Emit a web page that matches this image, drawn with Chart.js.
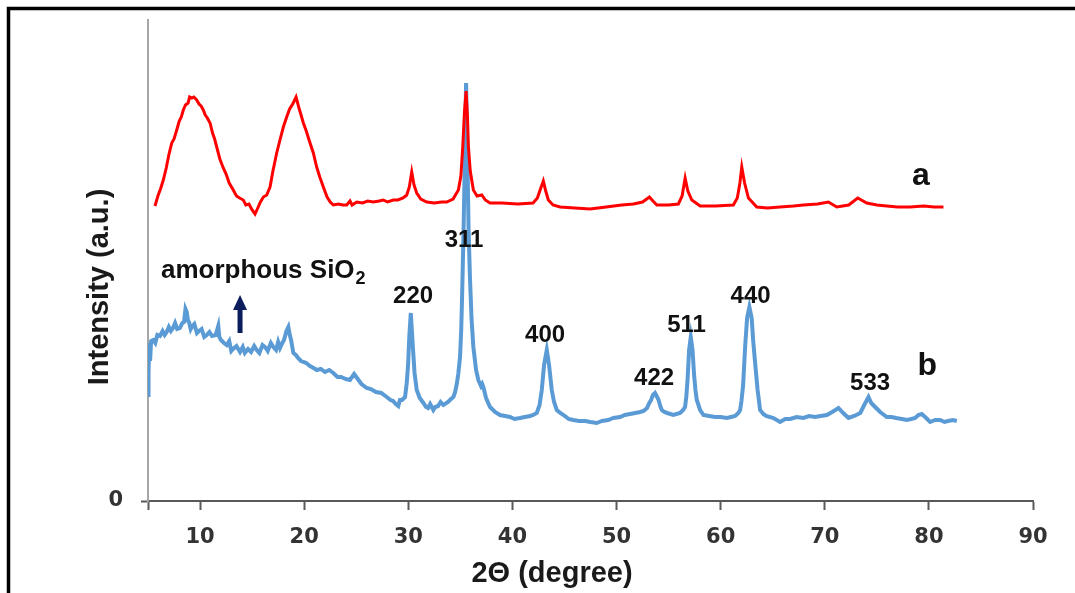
<!DOCTYPE html>
<html>
<head>
<meta charset="utf-8">
<script src="https://cdn.jsdelivr.net/npm/chart.js@4.4.1/dist/chart.umd.min.js"></script>
<style>
  html, body { margin: 0; padding: 0; background: #fff; }
  #wrap { width: 1075px; height: 593px; }
</style>
</head>
<body>
<div id="wrap"><canvas id="xrd" width="1075" height="593"></canvas></div>
<script>
// 2theta (degree) / intensity (a.u.)
const xTicks = [5, 10, 20, 30, 40, 50, 60, 70, 80, 90];
const yTicks = [0];

const curveA = [
  [5.67,295],[5.95,305],[6.2,312],[6.47,321],[6.75,333],[7.0,346],[7.28,358],[7.5,362],[7.76,371],[8.0,380],
  [8.2,384],[8.39,391],[8.6,396],[8.85,398],[9.0,404],[9.2,403],[9.4,404],[9.68,401],[9.9,397],[10.1,395],
  [10.31,391],[10.5,386],[10.7,383],[10.96,378],[11.2,368],[11.4,362],[11.6,354],[11.9,342],[12.23,333],[12.5,327],
  [12.8,318],[13.19,311],[13.5,305],[13.8,303],[14.15,301],[14.4,296],[14.7,297],[15.0,291],[15.28,287],[15.5,292],
  [15.8,299],[16.08,304],[16.4,306],[16.72,314],[17.0,330],[17.36,348],[17.7,362],[18.0,374],[18.32,384],[18.6,392],
  [18.9,397],[19.22,404],[19.5,393],[19.7,386],[19.92,378],[20.2,370],[20.5,360],[20.88,348],[21.2,334],[21.5,324],
  [21.84,314],[22.2,304],[22.5,299],[22.8,296],[23.3,297],[23.7,296],[24.09,296],[24.4,300],[24.6,296],[25.05,299],
  [25.6,298],[26.1,300],[26.64,299],[27.2,300],[27.6,301],[28.0,299],[28.56,301],[29.0,301],[29.5,303],[29.85,306],
  [30.1,314],[30.33,329],[30.55,316],[30.81,308],[31.2,302],[31.77,299],[32.5,298],[33.2,299],[33.69,299],[34.3,302],
  [34.81,311],[35.05,325],[35.23,354],[35.4,390],[35.55,410],[35.68,385],[35.77,355],[35.95,330],[36.25,311],[36.6,305],
  [37.06,306],[37.4,301],[37.85,298],[39.0,298],[40.5,297],[41.98,298],[42.4,303],[42.66,311],[42.97,320],[43.2,310],
  [43.45,301],[43.9,296],[44.58,294],[46.0,293],[47.46,292],[49.0,294],[50.5,296],[51.62,297],[52.5,299],[53.16,304],
  [53.5,300],[53.87,296],[55.0,296],[55.94,297],[56.3,305],[56.59,323],[56.85,310],[57.23,301],[58.03,295],[59.5,295],
  [61.22,296],[61.6,303],[61.85,318],[62.03,334],[62.3,318],[62.67,303],[63.47,294],[64.5,293],[65.71,294],[67.0,295],
  [67.95,296],[69.3,297],[70.35,299],[71.15,294],[72.3,296],[73.17,303],[74.03,298],[75.0,296],[75.95,295],[77.0,294],
  [78.2,294],[79.5,295],[80.5,294],[81.4,294]
];

const curveB = [
  [5.0,106],[5.03,150],[5.07,128],[5.12,158],[5.2,140],[5.3,160],[5.51,161],[5.7,158],[5.9,166],[6.15,165],
  [6.4,170],[6.6,166],[6.8,169],[7.0,174],[7.2,170],[7.4,173],[7.6,178],[7.8,172],[8.07,173],[8.3,178],
  [8.46,179],[8.6,192],[8.72,189],[8.85,180],[8.94,179],[9.1,172],[9.2,174],[9.45,177],[9.7,168],[9.9,170],
  [10.15,172],[10.4,164],[10.64,166],[10.9,169],[11.15,165],[11.5,166],[11.75,175],[11.85,164],[12.01,161],[12.3,158],
  [12.56,156],[12.8,160],[13.0,150],[13.17,152],[13.5,155],[13.84,149],[14.1,154],[14.3,148],[14.61,152],[14.9,149],
  [15.2,155],[15.44,151],[15.7,148],[16.0,156],[16.24,154],[16.5,150],[16.8,158],[17.04,154],[17.3,151],[17.5,159],
  [17.68,153],[17.9,158],[18.06,161],[18.3,170],[18.48,174],[18.62,166],[18.74,161],[18.96,148],[19.2,146],[19.41,143],
  [19.7,140],[19.92,139],[20.2,138],[20.56,135],[20.9,133],[21.21,131],[21.6,132],[22.0,129],[22.4,131],[22.8,128],
  [23.2,124],[23.54,124],[24.0,122],[24.4,121],[24.8,127],[25.08,123],[25.5,117],[26.01,113],[26.4,112],[26.9,109],
  [27.4,108],[27.93,104],[28.3,101],[28.54,100],[28.8,97],[29.04,95],[29.2,101],[29.4,101],[29.69,104],[29.85,118],
  [29.98,136],[30.1,165],[30.24,188],[30.36,168],[30.46,151],[30.6,128],[30.81,111],[31.1,103],[31.45,98],[31.7,94],
  [31.9,93],[32.1,97],[32.41,91],[32.6,94],[32.86,95],[33.1,99],[33.37,96],[33.82,99],[34.1,102],[34.33,104],
  [34.5,109],[34.64,116],[34.8,127],[34.97,144],[35.08,170],[35.16,201],[35.31,271],[35.45,351],[35.55,418],[35.67,351],
  [35.79,271],[35.93,221],[36.08,181],[36.25,154],[36.51,131],[36.73,121],[36.99,115],[37.1,117],[37.21,114],[37.47,103],
  [37.85,94],[38.33,89],[38.81,86],[39.3,85],[39.77,84],[40.2,82],[40.73,83],[41.2,84],[41.7,85],[42.0,86],
  [42.34,88],[42.61,96],[42.82,111],[43.04,136],[43.3,151],[43.52,136],[43.78,111],[44.0,99],[44.26,91],[44.6,88],
  [45.05,85],[45.4,82],[45.85,81],[46.4,80],[46.98,80],[47.5,79],[48.1,78],[48.6,80],[49.19,81],[49.7,83],
  [50.34,84],[50.8,86],[51.3,87],[51.8,88],[52.26,89],[52.6,90],[52.93,93],[53.1,97],[53.32,101],[53.5,106],
  [53.7,108],[53.85,105],[54.04,101],[54.2,95],[54.35,91],[54.6,89],[54.86,88],[55.46,86],[56.1,88],[56.4,91],
  [56.58,94],[56.7,104],[56.82,121],[56.97,151],[57.13,164],[57.3,151],[57.45,126],[57.58,111],[57.71,101],[58.03,91],
  [58.35,86],[58.9,85],[59.47,84],[60.0,84],[60.59,83],[61.0,84],[61.39,85],[61.7,88],[61.87,91],[62.0,100],
  [62.16,116],[62.35,154],[62.54,183],[62.76,194],[62.98,183],[63.12,161],[63.31,138],[63.55,111],[63.79,91],[64.1,87],
  [64.37,85],[65.07,83],[65.71,79],[66.2,82],[66.67,82],[67.3,84],[67.95,83],[68.5,85],[69.07,84],[69.6,85],
  [70.2,86],[70.71,89],[71.32,93],[71.77,88],[72.28,83],[72.83,85],[73.41,88],[73.79,96],[74.0,100],[74.2,104],
  [74.46,98],[74.84,94],[75.32,89],[75.96,84],[76.4,84],[76.86,83],[77.4,82],[77.88,81],[78.3,82],[78.68,83],
  [79.0,86],[79.32,87],[79.74,83],[80.12,79],[80.6,81],[81.08,81],[81.5,79],[81.85,80],[82.3,81],[82.68,80]
];

// hkl labels (x = 2theta, y = baseline in a.u.)
const peakNames = ["220", "311", "400", "422", "511", "440", "533"];
const peakX = [30.46, 35.36, 43.14, 53.61, 56.73, 62.88, 74.35];
const peakY = [198, 254, 159, 116, 169, 198, 111];

const curveNames = ["a", "b"];
const curveNameX = [79.23, 79.85];
const curveNameY = [316, 126];

const silicaX = 6.25, silicaY = 223;
const arrowX = 13.84, arrowFrom = 168, arrowTo = 206;

const labels = {
  id: "labels",
  afterDatasetsDraw(chart) {
    const { ctx, scales: { x, y } } = chart;
    ctx.save();

    // frame (top + left only)
    ctx.strokeStyle = "#000";
    ctx.lineWidth = 3.5;
    ctx.beginPath();
    ctx.moveTo(8.5, 593);
    ctx.lineTo(8.5, 8.5);
    ctx.lineTo(1075, 8.5);
    ctx.stroke();

    ctx.fillStyle = "#111";
    ctx.textAlign = "center";
    ctx.textBaseline = "alphabetic";
    ctx.font = "bold 24px 'Liberation Sans', Arial, sans-serif";
    peakNames.forEach((t, i) => {
      ctx.fillText(t, x.getPixelForValue(peakX[i]), y.getPixelForValue(peakY[i]));
    });

    ctx.font = "bold 32px 'Liberation Sans', Arial, sans-serif";
    curveNames.forEach((t, i) => {
      ctx.fillText(t, x.getPixelForValue(curveNameX[i]), y.getPixelForValue(curveNameY[i]));
    });

    // amorphous SiO2 with subscript
    const sx = x.getPixelForValue(silicaX), sy = y.getPixelForValue(silicaY);
    ctx.textAlign = "left";
    ctx.font = "bold 26px 'Liberation Sans', Arial, sans-serif";
    const main = "amorphous SiO";
    ctx.fillText(main, sx, sy);
    const w = ctx.measureText(main).width;
    ctx.font = "bold 18px 'Liberation Sans', Arial, sans-serif";
    ctx.fillText("2", sx + w + 1, sy + 6);

    // arrow
    const ax = x.getPixelForValue(arrowX);
    const y0 = y.getPixelForValue(arrowFrom), y1 = y.getPixelForValue(arrowTo);
    ctx.fillStyle = "#0c1d5e";
    ctx.fillRect(ax - 2.5, y1 + 12, 5, y0 - y1 - 12);
    ctx.beginPath();
    ctx.moveTo(ax, y1);
    ctx.lineTo(ax - 7, y1 + 15);
    ctx.lineTo(ax + 7, y1 + 15);
    ctx.closePath();
    ctx.fill();

    // axis titles
    ctx.fillStyle = "#1a1a1a";
    ctx.font = "bold 29px 'Liberation Sans', Arial, sans-serif";
    ctx.textAlign = "center";
    ctx.fillText("2\u0398 (degree)", 552, 582);
    ctx.translate(108, 287);
    ctx.rotate(-Math.PI / 2);
    ctx.fillText("Intensity (a.u.)", 0, 0);

    ctx.restore();
  }
};

const tickFont = { family: "'DejaVu Sans', Verdana, sans-serif", weight: "bold", size: 21 };

new Chart(document.getElementById("xrd"), {
  type: "line",
  data: {
    datasets: [
      {
        label: "a",
        data: curveA.map(([px, py]) => ({ x: px, y: py })),
        borderColor: "#ff0000",
        borderWidth: 3,
        pointRadius: 0,
        tension: 0,
      },
      {
        label: "b",
        data: curveB.map(([px, py]) => ({ x: px, y: py })),
        borderColor: "#5b9bd5",
        borderWidth: 4,
        pointRadius: 0,
        tension: 0,
      },
    ],
  },
  options: {
    responsive: false,
    animation: false,
    layout: { padding: { top: 20, right: 42, left: 0, bottom: 0 } },
    plugins: { legend: { display: false }, tooltip: { enabled: false } },
    scales: {
      x: {
        type: "linear",
        min: 5,
        max: 90,
        afterBuildTicks: (s) => { s.ticks = xTicks.map((v) => ({ value: v })); },
        afterFit: (s) => { s.height = 92; s.paddingLeft = 0; s.paddingRight = 0; },
        border: { color: "#595959", width: 2 },
        grid: { drawOnChartArea: false, tickLength: 9, tickColor: "#595959", tickWidth: 2 },
        ticks: {
          padding: 15,
          color: "#333",
          font: tickFont,
          maxRotation: 0,
          autoSkip: false,
          callback: (v) => (v === 5 ? "" : v),
        },
      },
      y: {
        min: 0,
        max: 481,
        afterBuildTicks: (s) => { s.ticks = yTicks.map((v) => ({ value: v })); },
        afterFit: (s) => { s.width = 148; s.paddingTop = 0; s.paddingBottom = 0; },
        border: { color: "#a6a6a6", width: 2 },
        grid: { drawOnChartArea: false, tickLength: 7, tickColor: "#595959", tickWidth: 2 },
        ticks: { padding: 18, color: "#333", font: tickFont },
      },
    },
  },
  plugins: [labels],
});
</script>
</body>
</html>
